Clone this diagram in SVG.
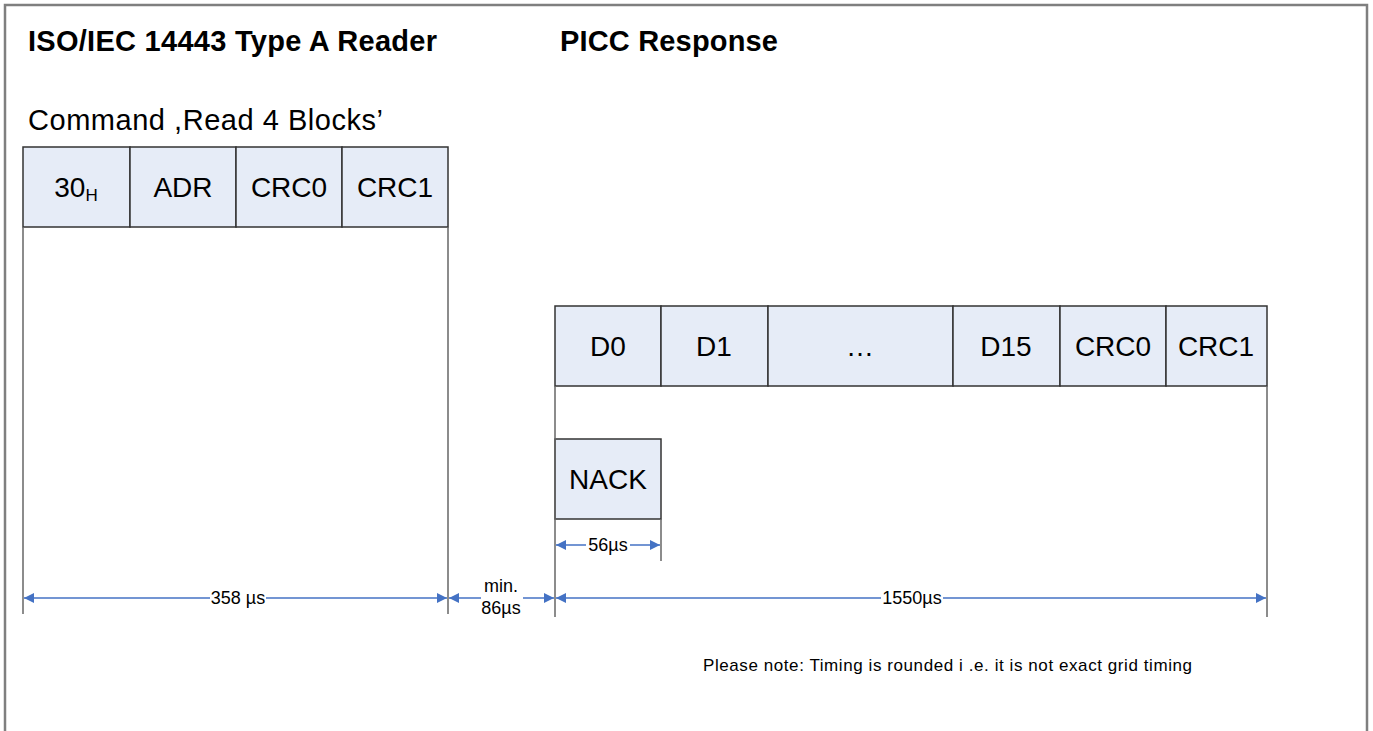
<svg xmlns="http://www.w3.org/2000/svg" width="1373" height="731" viewBox="0 0 1373 731">
<defs>
<style>
text{font-family:"Liberation Sans",Arial,sans-serif;fill:#000}
.title{font-size:29px;font-weight:bold}
.sub{font-size:29px}
.cell{fill:#e6ecf7;stroke:#333;stroke-width:1.5}
.ct{font-size:28px;text-anchor:middle}
.ext{stroke:#666;stroke-width:1.5;fill:none}
.dim{stroke:#4472c4;stroke-width:1.5;fill:none;marker-start:url(#as);marker-end:url(#ae)}
.dt{font-size:18px;text-anchor:middle}
.note{font-size:17px}
</style>
<marker id="ae" viewBox="0 0 10 10" refX="10" refY="5" markerWidth="10" markerHeight="10" markerUnits="userSpaceOnUse" orient="auto"><path d="M0,0L10,5L0,10z" fill="#4472c4"/></marker>
<marker id="as" viewBox="0 0 10 10" refX="0" refY="5" markerWidth="10" markerHeight="10" markerUnits="userSpaceOnUse" orient="auto"><path d="M10,0L0,5L10,10z" fill="#4472c4"/></marker>
</defs>
<rect x="0" y="0" width="1373" height="731" fill="#fff"/>
<rect x="5" y="5" width="1362" height="760" fill="none" stroke="#7f7f7f" stroke-width="2.5"/>
<text class="title" x="28" y="51" textLength="409" lengthAdjust="spacing">ISO/IEC 14443  Type A Reader</text>
<text class="title" x="560" y="51" textLength="218" lengthAdjust="spacing">PICC Response</text>
<text class="sub" x="28" y="130" textLength="355" lengthAdjust="spacing">Command ,Read  4 Blocks’</text>

<g id="reader-frame">
<rect class="cell" x="23" y="147" width="107" height="80"/>
<rect class="cell" x="130" y="147" width="106" height="80"/>
<rect class="cell" x="236" y="147" width="106" height="80"/>
<rect class="cell" x="342" y="147" width="106" height="80"/>
<text class="ct" x="76" y="197">30<tspan font-size="17" dy="4">H</tspan></text>
<text class="ct" x="183" y="197">ADR</text>
<text class="ct" x="289" y="197">CRC0</text>
<text class="ct" x="395" y="197">CRC1</text>
</g>

<g id="picc-frame">
<rect class="cell" x="555" y="306" width="106" height="80"/>
<rect class="cell" x="661" y="306" width="107" height="80"/>
<rect class="cell" x="768" y="306" width="185" height="80"/>
<rect class="cell" x="953" y="306" width="107" height="80"/>
<rect class="cell" x="1060" y="306" width="106" height="80"/>
<rect class="cell" x="1166" y="306" width="101" height="80"/>
<text class="ct" x="608" y="356">D0</text>
<text class="ct" x="714" y="356">D1</text>
<text class="ct" x="860" y="356">…</text>
<text class="ct" x="1006" y="356">D15</text>
<text class="ct" x="1113" y="356">CRC0</text>
<text class="ct" x="1216" y="356">CRC1</text>
</g>

<g id="nack">
<rect class="cell" x="555" y="439" width="106" height="80"/>
<text class="ct" x="608" y="489">NACK</text>
</g>

<g id="connectors">
<line class="ext" x1="23" y1="227" x2="23" y2="614"/>
<line class="ext" x1="448" y1="227" x2="448" y2="614"/>
<line class="ext" x1="555" y1="386" x2="555" y2="617"/>
<line class="ext" x1="1267" y1="386" x2="1267" y2="617"/>
<line class="ext" x1="661" y1="519" x2="661" y2="561"/>

<line class="dim" x1="24" y1="598" x2="447" y2="598"/>
<line class="dim" x1="449" y1="598" x2="554" y2="598"/>
<line class="dim" x1="556" y1="598" x2="1266" y2="598"/>
<line class="dim" x1="556" y1="545" x2="660" y2="545"/>

<rect x="210" y="588" width="56" height="20" fill="#fff"/>
<text class="dt" x="238" y="604">358 µs</text>
<rect x="481" y="576" width="42" height="42" fill="#fff"/>
<text class="dt" x="501" y="592">min.</text>
<text class="dt" x="501" y="614">86µs</text>
<rect x="881" y="588" width="62" height="20" fill="#fff"/>
<text class="dt" x="912" y="604">1550µs</text>
<rect x="586" y="535" width="44" height="20" fill="#fff"/>
<text class="dt" x="608" y="551">56µs</text>
</g>

<text class="note" x="703" y="671" textLength="489">Please note: Timing is rounded i .e. it is not exact grid timing</text>
</svg>
